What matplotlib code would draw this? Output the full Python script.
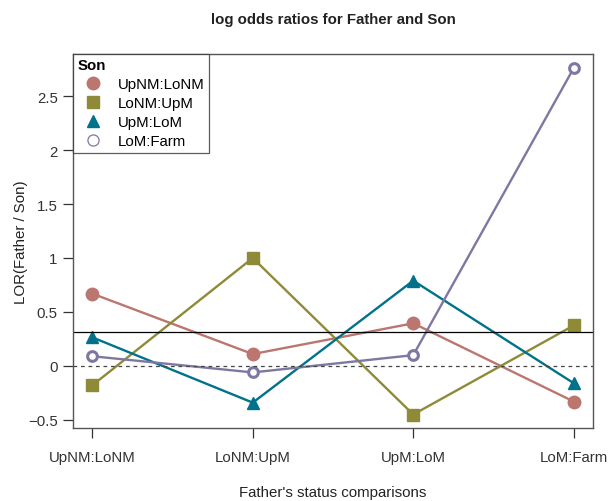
import numpy as np
import matplotlib
matplotlib.use("Agg")
import matplotlib.pyplot as plt

plt.rcParams["font.family"] = ["Liberation Sans", "DejaVu Sans"]

# father's status comparisons (x axis)
father = ["UpNM:LoNM", "LoNM:UpM", "UpM:LoM", "LoM:Farm"]

# LOR for each son comparison
lor_upnm_lonm = [0.67, 0.11, 0.395, -0.33]
lor_lonm_upm = [-0.18, 1.0, -0.45, 0.375]
lor_upm_lom = [0.265, -0.34, 0.79, -0.16]
lor_lom_farm = [0.09, -0.06, 0.10, 2.76]

son_labels = ["UpNM:LoNM", "LoNM:UpM", "UpM:LoM", "LoM:Farm"]
son_series = [lor_upnm_lonm, lor_lonm_upm, lor_upm_lom, lor_lom_farm]
colors = ["#BB7670", "#8E8A37", "#00728A", "#7E77A2"]
markers = ["o", "s", "^", "o"]

FS = 10.8

fig = plt.figure(figsize=(6.08, 5.02), dpi=100)
ax = fig.add_axes([73 / 608, 1 - 429 / 502, 520 / 608, 374 / 502])

x = np.arange(1, len(father) + 1)
handles = []
for i, (vals, col, mk, lab) in enumerate(zip(son_series, colors, markers, son_labels)):
    ms = 9 if mk == "o" else 8
    if i == 3:
        ax.plot(x, vals, "-", color=col, lw=1.7, marker="o", ms=7,
                mfc="white", mec=col, mew=2.2)
        h = plt.Line2D([], [], ls="none", marker="o", ms=8, mfc="white",
                       mec=col, mew=0.9)
    else:
        ax.plot(x, vals, "-", color=col, lw=1.7, marker=mk, ms=ms,
                mfc=col, mec=col)
        h = plt.Line2D([], [], ls="none", marker=mk, ms=ms, mfc=col, mec=col)
    handles.append(h)

allv = np.concatenate([np.array(s) for s in son_series])
ax.axhline(np.mean(allv), color="black", lw=0.9)
ax.axhline(0, color="#444444", lw=0.9, ls=(0, (3, 3)))

ax.set_xlim(0.88, 4.12)
ax.set_ylim(-0.575, 2.89)
ax.set_xticks(x)
ax.set_xticklabels(father)
ax.set_yticks([-0.5, 0, 0.5, 1, 1.5, 2, 2.5])
ax.set_yticklabels(["\u22120.5", "0", "0.5", "1", "1.5", "2", "2.5"])
ax.tick_params(axis="both", labelsize=FS, colors="#333333", length=7,
               width=0.9, pad=4)
ax.tick_params(axis="x", pad=9)
for sp in ax.spines.values():
    sp.set_color("#555555")
    sp.set_linewidth(1.0)

ax.set_xlabel("Father's status comparisons", fontsize=FS, color="#222222",
              va="center")
ax.xaxis.set_label_coords(0.5, (429 - 493) / 374)
ax.set_ylabel("LOR(Father / Son)", fontsize=FS, color="#222222", va="center")
ax.yaxis.set_label_coords((21 - 73) / 520, 0.5)
ax.set_title("log odds ratios for Father and Son", fontsize=FS,
             fontweight="bold", color="#222222", pad=22)

leg = ax.legend(handles, son_labels, loc="upper left", bbox_to_anchor=(0, 1),
                borderaxespad=0, title="Son", alignment="left", fontsize=FS,
                frameon=True, fancybox=False, edgecolor="#333333",
                handletextpad=0.7, labelspacing=0.33, borderpad=0.3,
                handlelength=2.0)
leg.get_title().set_fontweight("bold")
leg.get_title().set_fontsize(FS)
leg.get_frame().set_linewidth(0.9)

fig.savefig("out.png", dpi=100)
